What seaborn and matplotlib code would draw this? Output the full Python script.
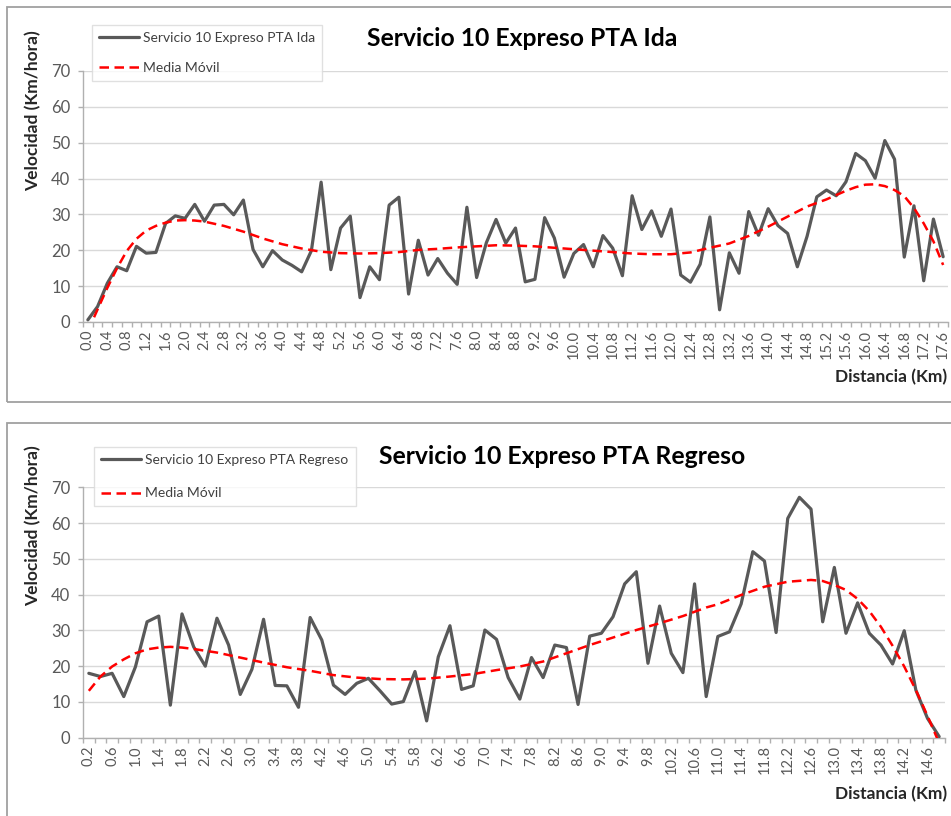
import matplotlib
matplotlib.use("Agg")
import matplotlib.pyplot as plt
from matplotlib.patches import Rectangle
from matplotlib.ticker import FixedLocator
import seaborn as sns
import pandas as pd

# ---- data: outbound trip (Ida) ----
km_ida = [0.0, 0.2, 0.4, 0.6, 0.8, 1.0, 1.2, 1.4, 1.6, 1.8,
          2.0, 2.2, 2.4, 2.6, 2.8, 3.0, 3.2, 3.4, 3.6, 3.8,
          4.0, 4.2, 4.4, 4.6, 4.8, 5.0, 5.2, 5.4, 5.6, 5.8,
          6.0, 6.2, 6.4, 6.6, 6.8, 7.0, 7.2, 7.4, 7.6, 7.8,
          8.0, 8.2, 8.4, 8.6, 8.8, 9.0, 9.2, 9.4, 9.6, 9.8,
          10.0, 10.2, 10.4, 10.6, 10.8, 11.0, 11.2, 11.4, 11.6, 11.8,
          12.0, 12.2, 12.4, 12.6, 12.8, 13.0, 13.2, 13.4, 13.6, 13.8,
          14.0, 14.2, 14.4, 14.6, 14.8, 15.0, 15.2, 15.4, 15.6, 15.8,
          16.0, 16.2, 16.4, 16.6, 16.8, 17.0, 17.2, 17.4, 17.6]
vel_ida = [0.6, 4.3, 10.8, 15.4, 14.3, 21.1, 19.2, 19.4, 27.5, 29.6,
           28.9, 32.8, 28.1, 32.6, 32.8, 29.9, 34.0, 20.2, 15.4, 19.9,
           17.3, 15.8, 14.0, 19.9, 39.0, 14.6, 26.2, 29.5, 6.8, 15.4,
           11.8, 32.6, 34.8, 7.8, 22.8, 13.1, 17.7, 13.6, 10.5, 32.0,
           12.4, 22.1, 28.6, 22.0, 26.2, 11.2, 11.9, 29.1, 23.4, 12.5,
           19.1, 21.6, 15.4, 24.1, 20.6, 12.9, 35.2, 25.8, 31.0, 23.9,
           31.5, 13.1, 11.1, 16.1, 29.3, 3.4, 19.3, 13.6, 30.8, 24.2,
           31.6, 26.9, 24.7, 15.4, 23.9, 34.9, 36.8, 35.2, 39.1, 47.0,
           45.0, 40.1, 50.6, 45.4, 18.1, 32.4, 11.5, 28.7, 18.2]
trend_km_ida = [0.0, 0.2, 0.4, 0.6, 0.8, 1.0, 1.2, 1.4, 1.6, 1.8,
                2.0, 2.2, 2.4, 2.8, 3.2, 3.6, 4.0, 4.4, 4.8, 5.2,
                5.6, 6.0, 6.4, 6.8, 7.2, 7.6, 8.0, 8.4, 8.8, 9.2,
                9.6, 10.0, 10.4, 10.8, 11.2, 11.6, 12.0, 12.4, 12.8, 13.2,
                13.6, 14.0, 14.4, 14.8, 15.2, 15.6, 15.8, 16.0, 16.2, 16.4,
                16.6, 16.8, 17.0, 17.2, 17.4, 17.6]
trend_vel_ida = [-2.5, 3.5, 9.5, 15.0, 19.8, 23.2, 25.5, 26.8, 27.7, 28.3,
                 28.4, 28.3, 28.0, 26.8, 25.2, 23.3, 21.7, 20.5, 19.6, 19.2,
                 19.1, 19.2, 19.5, 20.1, 20.4, 20.8, 21.1, 21.4, 21.3, 21.1,
                 20.7, 20.3, 19.9, 19.5, 19.1, 18.9, 18.9, 19.4, 20.7, 21.9,
                 24.0, 26.6, 29.4, 32.2, 34.2, 36.6, 37.6, 38.3, 38.4, 37.9,
                 36.8, 35.1, 31.8, 27.5, 22.5, 15.9]

# ---- data: return trip (Regreso) ----
km_reg = [0.2, 0.4, 0.6, 0.8, 1.0, 1.2, 1.4, 1.6, 1.8, 2.0,
          2.2, 2.4, 2.6, 2.8, 3.0, 3.2, 3.4, 3.6, 3.8, 4.0,
          4.2, 4.4, 4.6, 4.8, 5.0, 5.2, 5.4, 5.6, 5.8, 6.0,
          6.2, 6.4, 6.6, 6.8, 7.0, 7.2, 7.4, 7.6, 7.8, 8.0,
          8.2, 8.4, 8.6, 8.8, 9.0, 9.2, 9.4, 9.6, 9.8, 10.0,
          10.2, 10.4, 10.6, 10.8, 11.0, 11.2, 11.4, 11.6, 11.8, 12.0,
          12.2, 12.4, 12.6, 12.8, 13.0, 13.2, 13.4, 13.6, 13.8, 14.0,
          14.2, 14.4, 14.6, 14.8]
vel_reg = [18.0, 17.1, 18.0, 11.5, 19.8, 32.4, 34.0, 9.1, 34.6, 25.4,
           20.0, 33.4, 25.9, 12.1, 19.1, 33.1, 14.6, 14.5, 8.5, 33.6,
           27.3, 14.7, 12.1, 15.2, 16.6, 13.1, 9.4, 10.1, 18.5, 4.7,
           22.6, 31.3, 13.5, 14.5, 30.1, 27.5, 16.8, 10.8, 22.4, 16.8,
           25.9, 25.2, 9.3, 28.4, 29.2, 33.8, 43.0, 46.4, 20.8, 36.8,
           23.6, 18.2, 43.0, 11.5, 28.3, 29.6, 37.4, 52.0, 49.4, 29.4,
           61.3, 67.2, 63.9, 32.4, 47.6, 29.2, 37.7, 29.2, 25.9, 20.6,
           29.9, 13.3, 5.4, 0.3]
trend_km_reg = [0.2, 0.4, 0.6, 0.8, 1.0, 1.2, 1.4, 1.6, 1.8, 2.0,
                2.4, 2.8, 3.2, 3.6, 4.0, 4.4, 4.8, 5.2, 5.6, 6.0,
                6.4, 6.8, 7.2, 7.6, 8.0, 8.4, 8.8, 9.2, 9.6, 10.0,
                10.4, 10.8, 11.0, 11.4, 11.8, 12.2, 12.6, 12.8, 13.0, 13.2,
                13.4, 13.6, 13.8, 14.0, 14.2, 14.4, 14.6, 14.8]
trend_vel_reg = [13.1, 17.1, 19.9, 21.9, 23.6, 24.7, 25.2, 25.4, 25.2, 24.8,
                 23.8, 22.4, 21.0, 19.7, 18.7, 17.5, 16.8, 16.4, 16.3, 16.5,
                 17.1, 17.8, 18.9, 19.9, 21.3, 23.6, 25.9, 28.0, 30.1, 32.0,
                 34.0, 36.4, 37.3, 39.9, 42.2, 43.6, 44.1, 43.8, 42.7, 41.3,
                 38.8, 35.4, 31.0, 25.7, 19.9, 13.3, 6.1, -1.5]

tick_labels_ida = km_ida[::2]
tick_labels_reg = km_reg[::2]
y_ticks = [0, 10, 20, 30, 40, 50, 60, 70]

sns.set_theme(style="white")
plt.rcParams["font.family"] = ["Lato", "DejaVu Sans"]

W, H = 951, 816
fig = plt.figure(figsize=(W / 100, H / 100), dpi=100)
fig.patch.set_facecolor("white")

DARK = "#595959"
AXIS = "#b0b0b0"
GRID = "#d9d9d9"


def fx(px):
    return px / W


def fy(py):
    return 1 - py / H


# panel frames (they run past the right/bottom edge of the canvas)
for top, bottom in [(7, 402), (423, 830)]:
    fig.add_artist(Rectangle((fx(7), fy(bottom)), 1.2, (bottom - top) / H,
                             transform=fig.transFigure, fill=False,
                             edgecolor="#a0a0a0", lw=1.3, zorder=0))


def draw_panel(rect, km, vel, tkm, tvel, ticklabels, name, title, title_xy,
               legend_xy, legend_spacing, ylabel_xy, xlabel_xy):
    ax = fig.add_axes(rect)
    df = pd.DataFrame({"km": km, "vel": vel})
    dft = pd.DataFrame({"km": tkm, "vel": tvel})
    sns.lineplot(data=df, x="km", y="vel", ax=ax, color=DARK, lw=2.3,
                 label=name, zorder=3)
    sns.lineplot(data=dft, x="km", y="vel", ax=ax, color="#ff0000", lw=1.8,
                 linestyle=(0, (3.8, 2.2)), label="Media Móvil", zorder=4)
    step = 0.2
    ax.set_xlim(km[0] - step / 2, km[-1] + step / 2)
    ax.set_ylim(0, 70)
    ax.set_yticks(y_ticks)
    ax.set_xticks(ticklabels)
    ax.set_xticklabels([f"{v:.1f}" for v in ticklabels], rotation=90)
    bounds = [round(km[0] - step / 2 + step * i, 2) for i in range(len(km) + 1)]
    ax.xaxis.set_minor_locator(FixedLocator(bounds))
    ax.tick_params(axis="x", which="major", length=0, pad=5.5,
                   labelsize=10.5, labelcolor=DARK)
    ax.tick_params(axis="x", which="minor", length=3.6, width=1,
                   color=AXIS, bottom=True)
    ax.tick_params(axis="y", length=3.6, width=1, color=AXIS, pad=5.5,
                   labelsize=12, labelcolor=DARK, left=True)
    ax.yaxis.grid(True, color=GRID, lw=1)
    ax.xaxis.grid(False)
    ax.set_axisbelow(True)
    for s in ["top", "right"]:
        ax.spines[s].set_visible(False)
    for s in ["left", "bottom"]:
        ax.spines[s].set_color(AXIS)
        ax.spines[s].set_linewidth(1)
    ax.set_xlabel("")
    ax.set_ylabel("")
    leg = ax.legend(loc="upper left", bbox_to_anchor=(fx(legend_xy[0]), fy(legend_xy[1])),
                    bbox_transform=fig.transFigure, borderaxespad=0, fancybox=False,
                    frameon=True, fontsize=10, handlelength=2.9,
                    labelspacing=legend_spacing, borderpad=0.5, handletextpad=0.3)
    leg.get_frame().set_edgecolor(GRID)
    leg.get_frame().set_linewidth(1)
    for t in leg.get_texts():
        t.set_color("#404040")
    fig.text(fx(title_xy[0]), fy(title_xy[1]), title, ha="center", va="center",
             fontsize=17.8, fontweight="bold", color="black")
    fig.text(fx(ylabel_xy[0]), fy(ylabel_xy[1]), "Velocidad (Km/hora)", rotation=90,
             ha="center", va="center", fontsize=12.5, fontweight="bold", color="#262626")
    fig.text(fx(xlabel_xy[0]), fy(xlabel_xy[1]), "Distancia (Km)", ha="right",
             va="center", fontsize=12.5, fontweight="bold", color="#262626")
    return ax


draw_panel([fx(83), fy(322), (948 - 83) / W, (322 - 71) / H],
           km_ida, vel_ida, trend_km_ida, trend_vel_ida, tick_labels_ida,
           "Servicio 10 Expreso PTA Ida", "Servicio 10 Expreso PTA Ida",
           (522, 38), (92, 25), 1.3, (33, 111), (947, 377))

draw_panel([fx(83), fy(737.7), (945 - 83) / W, (737.7 - 487.3) / H],
           km_reg, vel_reg, trend_km_reg, trend_vel_reg, tick_labels_reg,
           "Servicio 10 Expreso PTA Regreso", "Servicio 10 Expreso PTA Regreso",
           (562, 457), (94, 447), 1.55, (33, 526), (947, 794))

fig.savefig("out.png", dpi=100)
